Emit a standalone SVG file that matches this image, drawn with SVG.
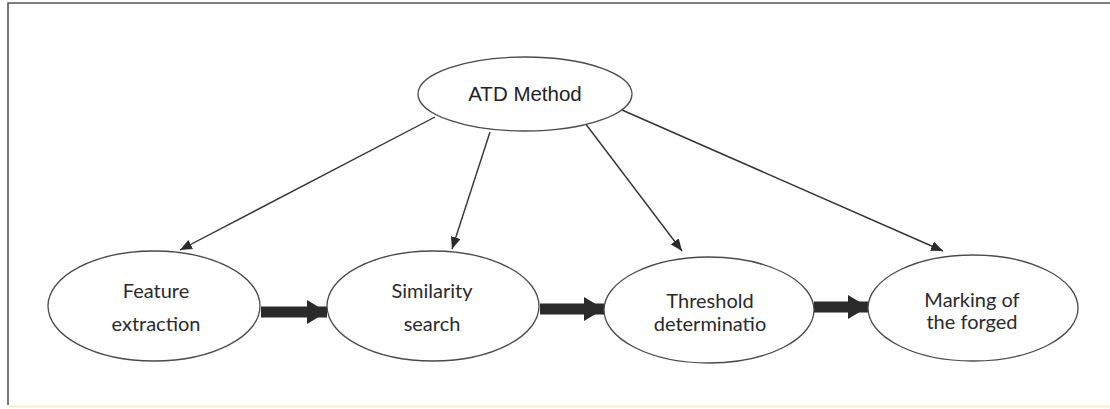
<svg xmlns="http://www.w3.org/2000/svg" width="1110" height="409" viewBox="0 0 1110 409">
<style>
.node ellipse{fill:#fff;stroke:#4a4a4a;stroke-width:1.3}
.lbl{font-family:Lato,"Open Sans",sans-serif;font-size:20px;fill:#2a2a2a;text-anchor:middle}
.top{font-family:"Liberation Sans",Arial,sans-serif;font-size:20.5px;fill:#222;text-anchor:middle}
.thin{stroke:#333;stroke-width:1.4;fill:none;marker-end:url(#ah)}
.thick{stroke:#2a2a2a;stroke-width:11;fill:none;marker-end:url(#big)}
</style>
<defs>
<marker id="ah" viewBox="0 0 12 10" refX="12" refY="5" markerWidth="12" markerHeight="10" markerUnits="userSpaceOnUse" orient="auto">
<path d="M0,0 L12,5 L0,10 Z" fill="#2a2a2a"/>
</marker>
<marker id="big" viewBox="0 0 20 24" refX="20" refY="12" markerWidth="20" markerHeight="24" markerUnits="userSpaceOnUse" orient="auto">
<path d="M0,0 L20,12 L0,24 Z" fill="#2a2a2a"/>
</marker>
</defs>
<rect width="1110" height="409" fill="#fff"/>
<g id="frame" stroke="#555" stroke-width="1.6" fill="none">
<path d="M8,405 L8,3 L1110,3"/>
<path d="M9,406.5 L1110,406.5" stroke="#f3eed2" stroke-width="2"/>
</g>
<g id="connectors">
<path class="thin" d="M435,117 L180,250"/>
<path class="thin" d="M490,132 L452,249"/>
<path class="thin" d="M585,123 L682,251"/>
<path class="thin" d="M622,110 L943,251"/>
<path class="thick" d="M261,312 L327,312"/>
<path class="thick" d="M540,309 L604,309"/>
<path class="thick" d="M814,307 L868,307"/>
</g>
<g id="atd" class="node">
<ellipse cx="525" cy="94" rx="107" ry="37"/>
<text class="top" x="525" y="101">ATD Method</text>
</g>
<g id="feature" class="node">
<ellipse cx="154" cy="306" rx="106" ry="55"/>
<text class="lbl" x="156" y="298">Feature</text>
<text class="lbl" x="156" y="331">extraction</text>
</g>
<g id="similarity" class="node">
<ellipse cx="433" cy="306" rx="106" ry="55"/>
<text class="lbl" x="432" y="298">Similarity</text>
<text class="lbl" x="432" y="331">search</text>
</g>
<g id="threshold" class="node">
<ellipse cx="709" cy="310" rx="105" ry="53"/>
<text class="lbl" x="710" y="308">Threshold</text>
<text class="lbl" x="710" y="331">determinatio</text>
</g>
<g id="marking" class="node">
<ellipse cx="973" cy="308" rx="105" ry="53"/>
<text class="lbl" x="972" y="307">Marking of</text>
<text class="lbl" x="972" y="329">the forged</text>
</g>
</svg>
